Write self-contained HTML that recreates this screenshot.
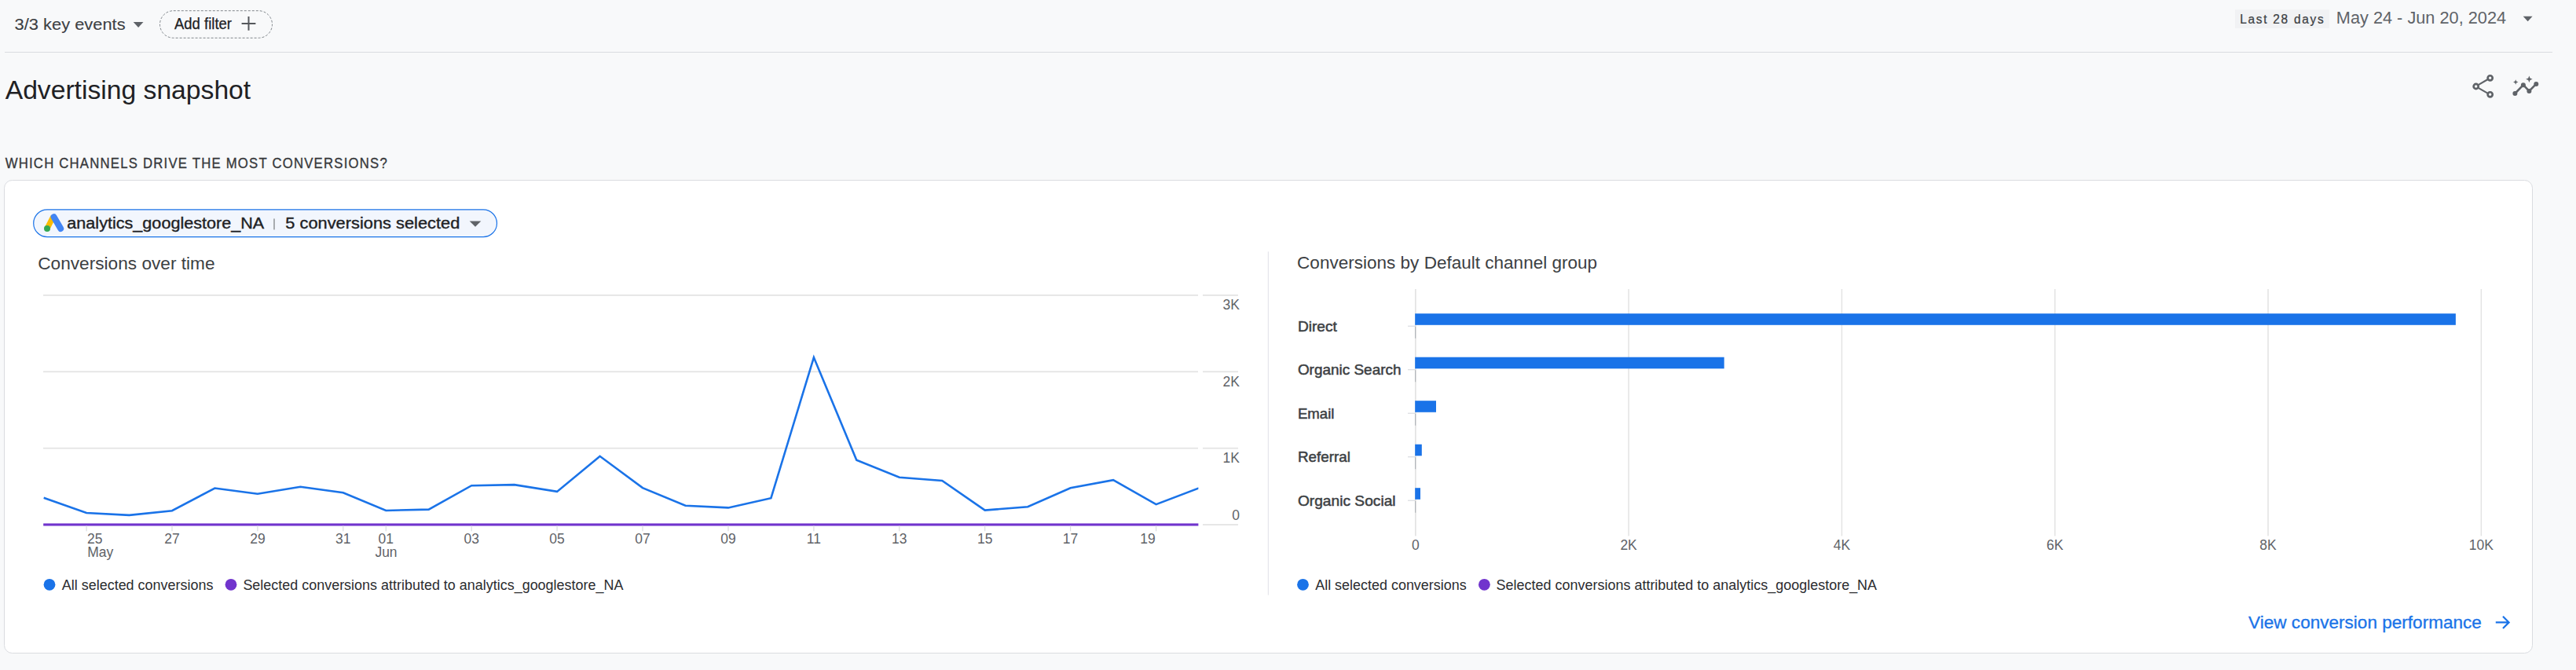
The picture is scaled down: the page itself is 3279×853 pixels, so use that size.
<!DOCTYPE html>
<html><head><meta charset="utf-8"><style>
html,body{margin:0;padding:0;background:#f8f9fa;width:3279px;height:853px;overflow:hidden}
svg{display:block;font-family:"Liberation Sans", sans-serif}
</style></head><body>
<svg width="3279" height="853" viewBox="0 0 3279 853">
<text x="18.6" y="37.7" font-size="20.8" fill="#3c4043" textLength="141" lengthAdjust="spacingAndGlyphs" stroke="#3c4043" stroke-width="0.1">3/3 key events</text>
<path d="M169.7 28h12.8l-6.4 7z" fill="#5f6368"/>
<rect x="203.5" y="13.7" width="143" height="34.6" rx="17.3" fill="none" stroke="#80868b" stroke-width="1" stroke-dasharray="3 2"/>
<text x="222" y="36.9" font-size="19.3" fill="#202124" textLength="73" lengthAdjust="spacingAndGlyphs" stroke="#202124" stroke-width="0.25">Add filter</text>
<path d="M316.5 21v17.8M307.6 29.9h17.8" stroke="#55585c" stroke-width="2" fill="none"/>
<rect x="2845" y="12.1" width="120" height="23.8" fill="#f1f2f4"/>
<text transform="translate(2851.2,29.9) scale(0.9,1)" x="0" y="0" font-size="17.2" fill="#3c4043" textLength="118.33" lengthAdjust="spacing" stroke="#3c4043" stroke-width="0.25">Last 28 days</text>
<text x="2973.8" y="29.65" font-size="22" fill="#5f6368" textLength="216.3" lengthAdjust="spacingAndGlyphs">May 24 - Jun 20, 2024</text>
<path d="M3211.7 20.7h11.9l-5.95 6.5z" fill="#5f6368"/>
<rect x="6" y="66" width="3243" height="1" fill="#dadce0"/>
<text x="6.7" y="126.1" font-size="33" fill="#202124" textLength="312.5" lengthAdjust="spacingAndGlyphs">Advertising snapshot</text>
<g fill="none" stroke="#5f6368" stroke-width="2.4"><circle cx="3169.7" cy="99.3" r="3.05" stroke-width="2.7"/><circle cx="3151.7" cy="110" r="3.05" stroke-width="2.7"/><circle cx="3169.7" cy="120.3" r="3.05" stroke-width="2.7"/><path d="M3154.6 108.2l12.2-7.2M3154.6 111.8l12.2 7" stroke-width="2.1"/></g>
<g fill="#5f6368"><path d="M3201.4 119L3211.9 108.2L3219.4 115.9L3228.3 106.9" fill="none" stroke="#5f6368" stroke-width="2.6"/><circle cx="3201.4" cy="119" r="3"/><circle cx="3211.9" cy="108.2" r="3"/><circle cx="3219.4" cy="115.9" r="3"/><circle cx="3228.3" cy="106.9" r="3"/><path d="M3219.4 96.6l1.2 3 3 1.2-3 1.2-1.2 3-1.2-3-3-1.2 3-1.2z"/><path d="M3202.2 101.3l.9 2.3 2.3.9-2.3.9-.9 2.3-.9-2.3-2.3-.9 2.3-.9z"/></g>
<text transform="translate(6.7,214.2) scale(0.9,1)" x="0" y="0" font-size="18.6" fill="#36383b" textLength="540.0" lengthAdjust="spacing" stroke="#36383b" stroke-width="0.35">WHICH CHANNELS DRIVE THE MOST CONVERSIONS?</text>
<rect x="5.5" y="229.5" width="3218" height="602" rx="10" fill="#fff" stroke="#dadce0" stroke-width="1"/>
<rect x="42.7" y="266.9" width="589.8" height="34.7" rx="17.35" fill="#f2f6fd" stroke="#1a73e8" stroke-width="1.2"/>
<path d="M60 290.9L67.7 275.8" stroke="#fbbc04" stroke-width="7"/><path d="M68.6 276.2L77.2 291" stroke="#4285f4" stroke-width="8" stroke-linecap="round"/><circle cx="60" cy="290.9" r="4" fill="#34a853"/>
<text x="85.3" y="290.5" font-size="20" fill="#202124" textLength="251" lengthAdjust="spacingAndGlyphs" stroke="#202124" stroke-width="0.35">analytics_googlestore_NA</text>
<rect x="348" y="278.4" width="2" height="14" fill="#a8acb0"/>
<text x="363.3" y="290.5" font-size="20" fill="#202124" textLength="222" lengthAdjust="spacingAndGlyphs" stroke="#202124" stroke-width="0.35">5 conversions selected</text>
<path d="M597.7 281.5h14.6l-7.3 7.2z" fill="#5f6368"/>
<text x="48.2" y="342.5" font-size="21.5" fill="#3c4043" textLength="225.4" lengthAdjust="spacingAndGlyphs">Conversions over time</text>
<rect x="55" y="375.0" width="1470" height="1.7" fill="#e3e3e3"/>
<rect x="1531" y="375.0" width="45" height="1.7" fill="#e3e3e3"/>
<rect x="55" y="472.40000000000003" width="1470" height="1.7" fill="#e3e3e3"/>
<rect x="1531" y="472.40000000000003" width="45" height="1.7" fill="#e3e3e3"/>
<rect x="55" y="569.8000000000001" width="1470" height="1.7" fill="#e3e3e3"/>
<rect x="1531" y="569.8000000000001" width="45" height="1.7" fill="#e3e3e3"/>
<rect x="55" y="667.2" width="1470" height="1.7" fill="#e3e3e3"/>
<rect x="1531" y="667.2" width="45" height="1.7" fill="#e3e3e3"/>
<text x="1578" y="394.3" font-size="17.5" fill="#5f6368" text-anchor="end">3K</text>
<text x="1578" y="492.1" font-size="17.5" fill="#5f6368" text-anchor="end">2K</text>
<text x="1578" y="588.9" font-size="17.5" fill="#5f6368" text-anchor="end">1K</text>
<text x="1578" y="662.3" font-size="17.5" fill="#5f6368" text-anchor="end">0</text>
<clipPath id="cp"><rect x="55.2" y="300" width="1470.2" height="400"/></clipPath>
<path d="M55.6 633.7 L110.1 653 L164.5 655.9 L219.0 650.2 L273.4 621.5 L327.9 628.8 L382.4 619.7 L436.8 627.3 L491.3 650 L545.7 648.6 L600.2 618.2 L654.7 617.1 L709.1 625.9 L763.6 580.8 L818.0 621.1 L872.5 643.8 L927.0 646.4 L981.4 634.2 L1035.9 455 L1090.3 585.7 L1144.8 607.7 L1199.3 612 L1253.7 649.6 L1308.2 645.3 L1362.6 621.2 L1417.1 611.2 L1471.6 642.1 L1526.0 621.4" fill="none" stroke="#1a73e8" stroke-width="2.6" stroke-linejoin="miter" clip-path="url(#cp)"/>
<rect x="55.2" y="666.4" width="1470.2" height="3.1" fill="#7134cd"/>
<rect x="109.5" y="669.3" width="1.2" height="7" fill="#dadce0"/>
<text x="111.0" y="691.7" font-size="17.5" fill="#5f6368">25</text>
<rect x="218.4" y="669.3" width="1.2" height="7" fill="#dadce0"/>
<text x="219.0" y="691.7" font-size="17.5" fill="#5f6368" text-anchor="middle">27</text>
<rect x="327.3" y="669.3" width="1.2" height="7" fill="#dadce0"/>
<text x="327.9" y="691.7" font-size="17.5" fill="#5f6368" text-anchor="middle">29</text>
<rect x="436.2" y="669.3" width="1.2" height="7" fill="#dadce0"/>
<text x="436.8" y="691.7" font-size="17.5" fill="#5f6368" text-anchor="middle">31</text>
<rect x="490.7" y="669.3" width="1.2" height="7" fill="#dadce0"/>
<text x="491.3" y="691.7" font-size="17.5" fill="#5f6368" text-anchor="middle">01</text>
<rect x="599.6" y="669.3" width="1.2" height="7" fill="#dadce0"/>
<text x="600.2" y="691.7" font-size="17.5" fill="#5f6368" text-anchor="middle">03</text>
<rect x="708.5" y="669.3" width="1.2" height="7" fill="#dadce0"/>
<text x="709.1" y="691.7" font-size="17.5" fill="#5f6368" text-anchor="middle">05</text>
<rect x="817.4" y="669.3" width="1.2" height="7" fill="#dadce0"/>
<text x="818.0" y="691.7" font-size="17.5" fill="#5f6368" text-anchor="middle">07</text>
<rect x="926.4" y="669.3" width="1.2" height="7" fill="#dadce0"/>
<text x="927.0" y="691.7" font-size="17.5" fill="#5f6368" text-anchor="middle">09</text>
<rect x="1035.3" y="669.3" width="1.2" height="7" fill="#dadce0"/>
<text x="1035.9" y="691.7" font-size="17.5" fill="#5f6368" text-anchor="middle">11</text>
<rect x="1144.2" y="669.3" width="1.2" height="7" fill="#dadce0"/>
<text x="1144.8" y="691.7" font-size="17.5" fill="#5f6368" text-anchor="middle">13</text>
<rect x="1253.1" y="669.3" width="1.2" height="7" fill="#dadce0"/>
<text x="1253.7" y="691.7" font-size="17.5" fill="#5f6368" text-anchor="middle">15</text>
<rect x="1362.0" y="669.3" width="1.2" height="7" fill="#dadce0"/>
<text x="1362.6" y="691.7" font-size="17.5" fill="#5f6368" text-anchor="middle">17</text>
<rect x="1471.0" y="669.3" width="1.2" height="7" fill="#dadce0"/>
<text x="1470.8" y="691.7" font-size="17.5" fill="#5f6368" text-anchor="end">19</text>
<text x="111.3" y="709.3" font-size="17.5" fill="#5f6368">May</text>
<text x="491.5" y="709.2" font-size="17.5" fill="#5f6368" text-anchor="middle">Jun</text>
<circle cx="63" cy="744.3" r="7.4" fill="#1a73e8"/>
<text x="78.8" y="750.6" font-size="17.5" fill="#2b2c2f" textLength="192.6" lengthAdjust="spacingAndGlyphs">All selected conversions</text>
<circle cx="294" cy="744.3" r="7.4" fill="#7134cd"/>
<text x="309.4" y="750.6" font-size="17.5" fill="#2b2c2f" textLength="484" lengthAdjust="spacingAndGlyphs">Selected conversions attributed to analytics_googlestore_NA</text>
<rect x="1613.8" y="320.3" width="1.3" height="437.3" fill="#e6e6ec"/>
<text x="1651.1" y="341.8" font-size="21.5" fill="#3c4043" textLength="382" lengthAdjust="spacingAndGlyphs">Conversions by Default channel group</text>
<rect x="2072.4" y="368" width="1.5" height="314.4" fill="#e3e3e3"/>
<text x="2073.1" y="700" font-size="17.5" fill="#5f6368" text-anchor="middle">2K</text>
<rect x="2343.7" y="368" width="1.5" height="314.4" fill="#e3e3e3"/>
<text x="2344.4" y="700" font-size="17.5" fill="#5f6368" text-anchor="middle">4K</text>
<rect x="2615.0" y="368" width="1.5" height="314.4" fill="#e3e3e3"/>
<text x="2615.7" y="700" font-size="17.5" fill="#5f6368" text-anchor="middle">6K</text>
<rect x="2886.3" y="368" width="1.5" height="314.4" fill="#e3e3e3"/>
<text x="2887.0" y="700" font-size="17.5" fill="#5f6368" text-anchor="middle">8K</text>
<rect x="3157.6" y="368" width="1.5" height="314.4" fill="#e3e3e3"/>
<text x="3158.3" y="700" font-size="17.5" fill="#5f6368" text-anchor="middle">10K</text>
<rect x="1801" y="368" width="1.7" height="314.4" fill="#e3e3e3"/>
<text x="1801.9" y="700" font-size="17.5" fill="#5f6368" text-anchor="middle">0</text>
<rect x="1801.2" y="399.2" width="1324.7" height="14.6" fill="#1a73e8"/>
<rect x="1792" y="414.6" width="9.5" height="1.2" fill="#dadce0"/>
<rect x="1801.2" y="415.7" width="1" height="15" fill="#a8adb2"/>
<text x="1651.9" y="421.7" font-size="19" fill="#3c4043" textLength="50" lengthAdjust="spacingAndGlyphs" stroke="#3c4043" stroke-width="0.5">Direct</text>
<rect x="1801.2" y="454.7" width="393.5" height="14.6" fill="#1a73e8"/>
<rect x="1792" y="470.1" width="9.5" height="1.2" fill="#dadce0"/>
<rect x="1801.2" y="471.2" width="1" height="15" fill="#a8adb2"/>
<text x="1651.9" y="477.2" font-size="19" fill="#3c4043" textLength="131.6" lengthAdjust="spacingAndGlyphs" stroke="#3c4043" stroke-width="0.5">Organic Search</text>
<rect x="1801.2" y="510.2" width="26.8" height="14.6" fill="#1a73e8"/>
<rect x="1792" y="525.6" width="9.5" height="1.2" fill="#dadce0"/>
<rect x="1801.2" y="526.7" width="1" height="15" fill="#a8adb2"/>
<text x="1651.9" y="532.7" font-size="19" fill="#3c4043" textLength="46.6" lengthAdjust="spacingAndGlyphs" stroke="#3c4043" stroke-width="0.5">Email</text>
<rect x="1801.2" y="565.7" width="8.6" height="14.6" fill="#1a73e8"/>
<rect x="1792" y="581.1" width="9.5" height="1.2" fill="#dadce0"/>
<rect x="1801.2" y="582.2" width="1" height="15" fill="#a8adb2"/>
<text x="1651.9" y="588.2" font-size="19" fill="#3c4043" textLength="67" lengthAdjust="spacingAndGlyphs" stroke="#3c4043" stroke-width="0.5">Referral</text>
<rect x="1801.2" y="621.2" width="6.8" height="14.6" fill="#1a73e8"/>
<rect x="1792" y="636.6" width="9.5" height="1.2" fill="#dadce0"/>
<rect x="1801.2" y="637.7" width="1" height="15" fill="#a8adb2"/>
<text x="1651.9" y="643.7" font-size="19" fill="#3c4043" textLength="124.7" lengthAdjust="spacingAndGlyphs" stroke="#3c4043" stroke-width="0.5">Organic Social</text>
<circle cx="1658.5" cy="744.3" r="7.4" fill="#1a73e8"/>
<text x="1674.2" y="750.6" font-size="17.5" fill="#2b2c2f" textLength="192.5" lengthAdjust="spacingAndGlyphs">All selected conversions</text>
<circle cx="1889.4" cy="744.3" r="7.4" fill="#7134cd"/>
<text x="1904.6" y="750.6" font-size="17.5" fill="#2b2c2f" textLength="484.5" lengthAdjust="spacingAndGlyphs">Selected conversions attributed to analytics_googlestore_NA</text>
<text x="2862.1" y="800" font-size="21.5" fill="#1a73e8" textLength="296.8" lengthAdjust="spacingAndGlyphs" stroke="#1a73e8" stroke-width="0.3">View conversion performance</text>
<path d="M3176.8 792.4h16.5M3186 784.8l7.6 7.6-7.6 7.6" fill="none" stroke="#1a73e8" stroke-width="2.2"/>
</svg>
</body></html>
